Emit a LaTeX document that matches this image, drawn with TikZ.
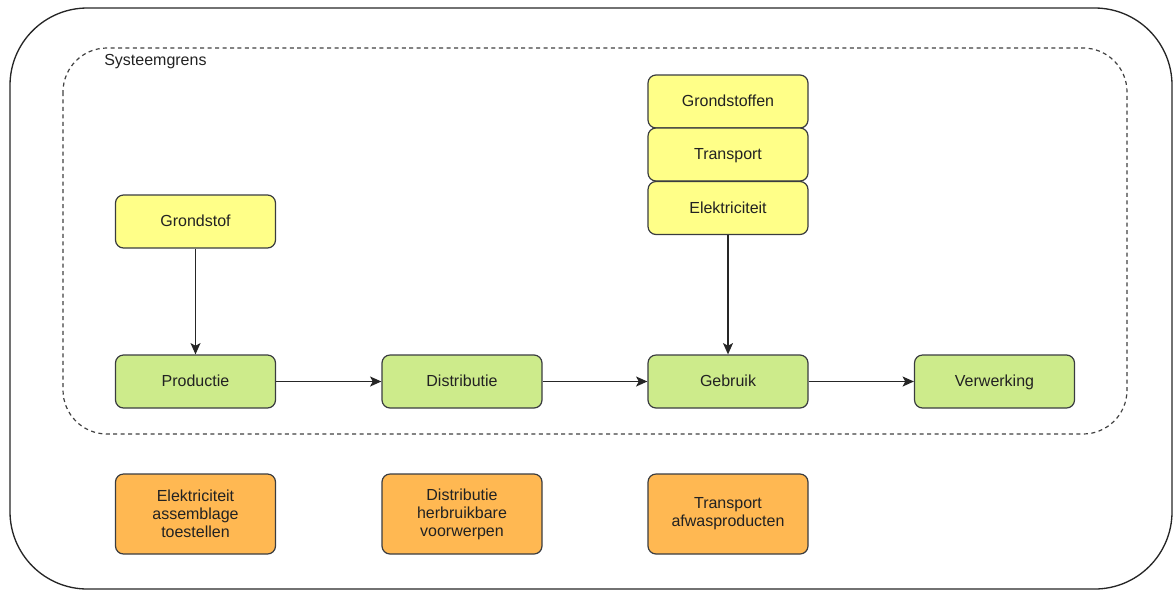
\documentclass[tikz,border=0pt]{standalone}
\usepackage{fontspec}
\setmainfont{Liberation Sans}
\usetikzlibrary{arrows.meta}
\definecolor{boxline}{HTML}{3A3C40}
\definecolor{yellowfill}{HTML}{FFFF88}
\definecolor{greenfill}{HTML}{CDEB8B}
\definecolor{orangefill}{HTML}{FFB852}
\definecolor{txt}{HTML}{222222}
\tikzset{
  box/.style={draw=boxline, line width=0.9pt, rounded corners=6pt,
    minimum width=120pt, minimum height=39.75pt, inner sep=2pt,
    align=center, text=txt, font=\fontsize{12}{13.5}\selectfont},
  oneline/.style={text height=10.6pt, text depth=2.5pt},
  rawbox/.style={box, oneline, fill=yellowfill},
  stagebox/.style={box, oneline, fill=greenfill},
  extbox/.style={box, fill=orangefill, minimum height=60pt},
  flow/.style={draw=black!85, line width=1pt, -{Stealth[length=8.5pt,width=7.5pt,inset=2pt]}}
}
\begin{document}
\begin{tikzpicture}[x=0.75pt, y=-0.75pt]
\useasboundingbox (0,0) rectangle (1173,590);
% outer frame
\draw[black!85, line width=1pt, rounded corners=58pt] (10,8) rectangle (1172,589);
% system boundary
\draw[black!75, line width=0.9pt, dash pattern=on 3pt off 2.6pt, rounded corners=33pt] (63,48) rectangle (1127,434);
\node[anchor=west, text=txt, font=\fontsize{12}{13.5}\selectfont, inner sep=0pt] (sg) at (104,62) {Systeemgrens};

% raw materials
\node[rawbox] (grondstof) at (195.5,221.5) {Grondstof};
\node[rawbox] (grondstoffen) at (728,101.5) {Grondstoffen};
\node[rawbox] (transport) at (728,154.5) {Transport};
\node[rawbox] (elek) at (728,208) {Elektriciteit};

% life cycle stages
\node[stagebox] (productie) at (195.5,381.5) {Productie};
\node[stagebox] (distributie) at (462,381.5) {Distributie};
\node[stagebox] (gebruik) at (728,381.5) {Gebruik};
\node[stagebox] (verwerking) at (994.5,381.5) {Verwerking};

% outside the boundary
\node[extbox] (elekass) at (195.5,514) {Elektriciteit\\assemblage\\toestellen};
\node[extbox] (distherb) at (462,514) {Distributie\\herbruikbare\\voorwerpen};
\node[extbox] (transafw) at (728,514) {Transport\\afwasproducten};

% flows
\draw[flow] (grondstof) -- (productie);
\draw[flow] (elek) -- (gebruik);
\draw[flow] (productie) -- (distributie);
\draw[flow] (distributie) -- (gebruik);
\draw[flow] (gebruik) -- (verwerking);
\end{tikzpicture}
\end{document}
